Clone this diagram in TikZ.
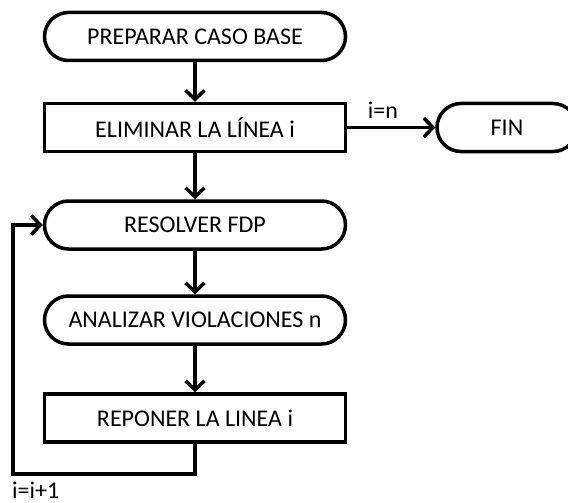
\documentclass[tikz,border=0pt]{standalone}
\usepackage{fontspec}
\setmainfont{Carlito}
\usetikzlibrary{arrows.meta}
\tikzset{
  base/.style={draw, line width=3.5pt, minimum height=48pt, inner sep=0pt, font=\fontsize{24}{28}\selectfont},
  term/.style={base, rounded corners=24pt, minimum width=301pt},
  proc/.style={base, minimum width=301pt},
  link/.style={line width=3.5pt, -{Straight Barb[length=9pt,width=19pt]}},
  lbl/.style={font=\fontsize{24}{28}\selectfont, inner sep=0pt}
}
\begin{document}
\begin{tikzpicture}[x=1pt,y=-1pt]
  \useasboundingbox (0,0) rectangle (568,503);
  \node[term] (prep) at (195,36.5) {PREPARAR CASO BASE};
  \node[proc] (elim) at (195,127.5) {ELIMINAR LA LÍNEA i};
  \node[term, minimum width=140pt] (fin) at (507,127.5) {FIN};
  \node[term] (fdp) at (195,225) {RESOLVER FDP};
  \node[term] (anal) at (195,320) {ANALIZAR VIOLACIONES n};
  \node[proc] (repo) at (195,418) {REPONER LA LINEA i};
  \coordinate (loop) at (13,474);

  \draw[link] (prep) -- (elim);
  \draw[link] (elim) -- (fdp);
  \draw[link] (fdp) -- (anal);
  \draw[link] (anal) -- (repo);
  \draw[link] (elim.east) -- (fin.west);
  \draw[link] (repo.south) |- (loop) |- (fdp.west);

  \node[lbl, anchor=base] (eqn) at (383,118) {i=n};
  \node[lbl, anchor=base west] (inc) at (12,498) {i=i+1};
\end{tikzpicture}
\end{document}
